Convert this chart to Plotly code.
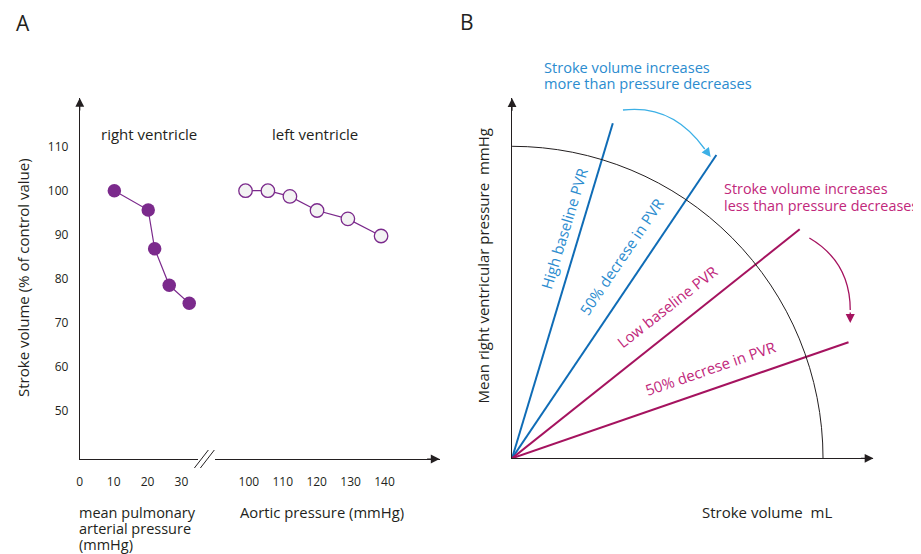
import plotly.graph_objects as go

# Page body has an 8px margin: figure is sized so page == 921x554 window
OFF = 8
W, H = 921 - OFF, 554 - OFF
def px(x):
    return (x - OFF) / W
def py(y):
    return 1 - (y - OFF) / H

FONT = "Open Sans"
BLACK = "#231f20"
PURPLE = "#7b2a8c"
BLUE_LINE = "#0f6cb6"
BLUE_TEXT = "#2b8ccf"
BLUE_ARROW = "#3cb0e6"
MAG_LINE = "#a5135f"
MAG_TEXT = "#c1277b"

# ---------------- Panel A data ----------------
rv_pressure = [10.2, 20.2, 22.1, 26.4, 32.3]
rv_sv = [100, 95.6, 86.8, 78.5, 74.4]
lv_pressure = [99, 105.6, 112.1, 120.1, 129.2, 139]
lv_sv = [100, 100, 98.7, 95.5, 93.6, 89.7]
rv_ticks = [0, 10, 20, 30]
lv_ticks = [100, 110, 120, 130, 140]
sv_ticks = [50, 60, 70, 80, 90, 100, 110]

# ---------------- Panel B data (schematic) ----------------
pvr_names = ["High baseline PVR", "50% decrese in PVR", "Low baseline PVR", "50% decrese in PVR"]
pvr_end_sv = [32.4, 65.7, 92.5, 108.2]
pvr_end_p = [107.4, 97.2, 73.4, 37.2]
pvr_colors = [BLUE_LINE, BLUE_LINE, MAG_LINE, MAG_LINE]
pvr_text_colors = [BLUE_TEXT, BLUE_TEXT, MAG_TEXT, MAG_TEXT]
pvr_label_sv = [16.8, 35.3, 50.1, 63.9]
pvr_label_p = [73.8, 64.8, 48.8, 29.0]
pvr_label_angle = [-73, -56, -38, -19]
iso_radius = 100

fig = go.Figure()

# Panel A traces
fig.add_trace(go.Scatter(
    x=rv_pressure, y=rv_sv, xaxis="x", yaxis="y", mode="lines+markers",
    line=dict(color=PURPLE, width=1.2),
    marker=dict(size=13.5, color=PURPLE, line=dict(width=0)),
    showlegend=False, cliponaxis=False))
fig.add_trace(go.Scatter(
    x=lv_pressure, y=lv_sv, xaxis="x2", yaxis="y", mode="lines+markers",
    line=dict(color=PURPLE, width=1.2),
    marker=dict(size=13.5, color="#f3f3f3", line=dict(width=1.3, color=PURPLE)),
    showlegend=False, cliponaxis=False))

# Panel B traces
for sv, p, c in zip(pvr_end_sv, pvr_end_p, pvr_colors):
    fig.add_trace(go.Scatter(
        x=[0, sv], y=[0, p], xaxis="x3", yaxis="y3", mode="lines",
        line=dict(color=c, width=2), showlegend=False, cliponaxis=False))

# Axes geometry (reference pixel coordinates)
A_X0, A_BREAK_L, A_BREAK_R, A_X1 = 77, 196, 213, 438
A_Y0, A_Y1 = 459, 98
SCALE_A = 3.4
B_X0, B_X1 = 510.7, 873.3
B_Y0, B_Y1 = 458.3, 98.3
SCALE_B = 3.12

tickfont = dict(family=FONT, size=12, color=BLACK)
common = dict(showgrid=False, zeroline=False, showline=True, linecolor=BLACK,
              linewidth=1, ticks="", tickfont=tickfont)

fig.update_layout(
    width=W, height=H, margin=dict(l=0, r=0, t=0, b=0),
    paper_bgcolor="white", plot_bgcolor="rgba(0,0,0,0)",
    xaxis=dict(domain=[px(A_X0), px(A_BREAK_L)],
               range=[0, (A_BREAK_L - A_X0) / SCALE_A],
               tickvals=rv_ticks, anchor="y", ticklabelstandoff=12, **common),
    xaxis2=dict(domain=[px(A_BREAK_R), px(A_X1)],
                range=[100 - (246.7 - A_BREAK_R) / SCALE_A, 100 + (A_X1 - 246.7) / SCALE_A],
                tickvals=lv_ticks, anchor="y", ticklabelstandoff=12, **common),
    yaxis=dict(domain=[py(A_Y0), py(A_Y1)],
               range=[110 - (A_Y0 - 146.7) / 4.4, 110 + (146.7 - A_Y1) / 4.4],
               tickvals=sv_ticks, anchor="x", ticklabelstandoff=8, **common),
    xaxis3=dict(domain=[px(B_X0), px(B_X1)], range=[0, (B_X1 - B_X0) / SCALE_B],
                anchor="y3", showticklabels=False, **common),
    yaxis3=dict(domain=[py(B_Y0), py(B_Y1)], range=[0, (B_Y0 - B_Y1) / SCALE_B],
                anchor="x3", showticklabels=False, **common),
)

shapes = []
# iso line (quarter circle) in panel B
shapes.append(dict(type="circle", xref="x3", yref="y3",
                   x0=-iso_radius, y0=-iso_radius, x1=iso_radius, y1=iso_radius,
                   line=dict(color=BLACK, width=1)))
# break marks on panel A x axis
for dx in (0, 6):
    shapes.append(dict(type="line", xref="paper", yref="paper",
                       x0=px(192 + dx), y0=py(468), x1=px(206 + dx), y1=py(450),
                       line=dict(color=BLACK, width=1)))

def b_to_data(xp, yp):
    return (xp - B_X0) / SCALE_B, (B_Y0 - yp) / SCALE_B

# curved arrows
bs = b_to_data(622, 110); bc = b_to_data(672, 104); be = b_to_data(704, 149)
shapes.append(dict(type="path", xref="x3", yref="y3",
                   path=f"M {bs[0]},{bs[1]} Q {bc[0]},{bc[1]} {be[0]},{be[1]}",
                   line=dict(color=BLUE_ARROW, width=1.3)))
ms = b_to_data(809, 238); mc = b_to_data(850, 262); me = b_to_data(850, 310)
shapes.append(dict(type="path", xref="x3", yref="y3",
                   path=f"M {ms[0]},{ms[1]} Q {mc[0]},{mc[1]} {me[0]},{me[1]}",
                   line=dict(color=MAG_LINE, width=1.3)))
fig.update_layout(shapes=shapes)

ann = []
def text(x, y, s, size=15, color=BLACK, xanchor="center", angle=0, xref="paper", yref="paper"):
    ann.append(dict(x=x, y=y, xref=xref, yref=yref, text=s, showarrow=False,
                    xanchor=xanchor, yanchor="middle", textangle=angle,
                    font=dict(family=FONT, size=size, color=color)))

def arrow(xt, yt, ax, ay, color, xref="paper", yref="paper", size=1.6, width=1.1):
    ann.append(dict(x=xt, y=yt, xref=xref, yref=yref, ax=ax, ay=ay, text="",
                    showarrow=True, arrowhead=2, arrowsize=size, arrowwidth=width,
                    arrowcolor=color, standoff=0))

# axis arrowheads
arrow(px(A_X0), py(A_Y1), 0, 14, BLACK)
arrow(px(A_X1), py(A_Y0), -14, 0, BLACK)
arrow(px(B_X0), py(B_Y1), 0, 14, BLACK)
arrow(px(B_X1), py(B_Y0), -14, 0, BLACK)
# curved arrow heads
bt = b_to_data(710, 157)
arrow(bt[0], bt[1], -6, -8, BLUE_ARROW, xref="x3", yref="y3", size=1.4, width=1.3)
mt = b_to_data(850, 323)
arrow(mt[0], mt[1], 0, -12, MAG_LINE, xref="x3", yref="y3", size=1.4, width=1.3)

# panel letters
text(px(20.5), py(23), "A", size=21)
text(px(466), py(22), "B", size=21)

# panel A labels
text(px(146), py(134), "right ventricle")
text(px(313), py(134), "left ventricle")
text(px(20), py(277), "Stroke volume (% of control value)", angle=-90)
for i, line in enumerate(["mean pulmonary", "arterial pressure", "(mmHg)"]):
    text(px(74), py(512 + 16 * i), line, size=14.5, xanchor="left")
text(px(236), py(512), "Aortic pressure (mmHg)", size=14.8, xanchor="left")

# panel B labels
text(px(541), py(67), "Stroke volume increases", size=14.6, color=BLUE_TEXT, xanchor="left")
text(px(541), py(83), "more than pressure decreases", size=14.6, color=BLUE_TEXT, xanchor="left")
text(px(721), py(189), "Stroke volume increases", size=14.4, color=MAG_TEXT, xanchor="left")
text(px(721), py(205), "less than pressure decreases", size=14.4, color=MAG_TEXT, xanchor="left")
text(px(482), py(266), "Mean right ventricular pressure  mmHg", angle=-90)
text(px(766), py(512), "Stroke volume  mL")
for name, sx, sy, ang, col in zip(pvr_names, pvr_label_sv, pvr_label_p, pvr_label_angle, pvr_text_colors):
    text(sx, sy, name, color=col, angle=ang, xref="x3", yref="y3")

fig.update_layout(annotations=ann)
fig.write_html("out.html")
